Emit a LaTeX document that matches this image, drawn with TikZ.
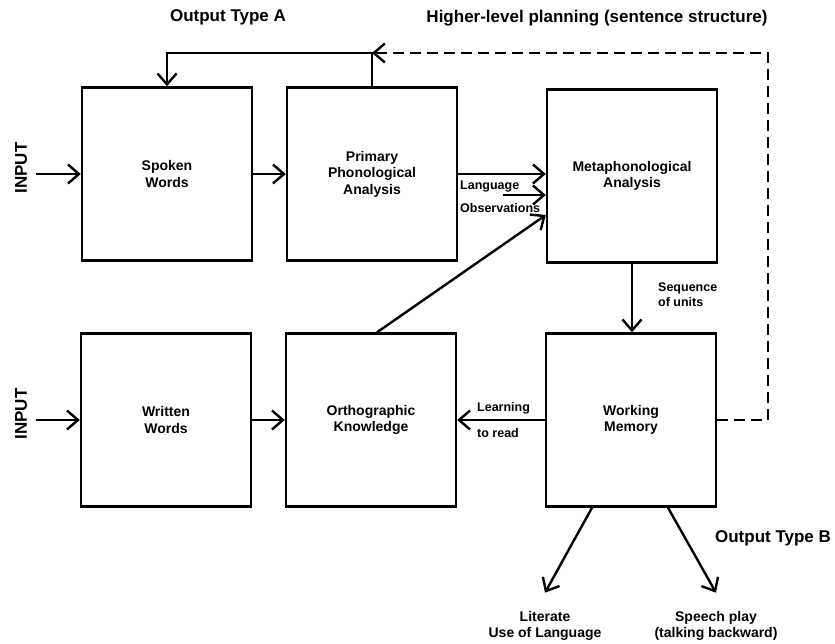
\documentclass[tikz,border=0pt]{standalone}
\usepackage{fontspec}
\setmainfont{Liberation Sans}
\usetikzlibrary{arrows.meta}

\tikzset{
	box/.style={draw, line width=2.4pt, minimum width=170pt, minimum height=173pt, align=center, font=\fontsize{14}{16.5}\selectfont\bfseries},
	lbl/.style={font=\fontsize{12.5}{15}\selectfont\bfseries, inner sep=0pt, align=left},
	outlbl/.style={font=\fontsize{14}{16.5}\selectfont\bfseries, align=center},
	ttl/.style={font=\fontsize{17}{20}\selectfont\bfseries, inner sep=0pt},
	arr/.style={line width=2.4pt, -{Straight Barb[length=11pt,width=19pt]}},
}

\begin{document}
\begin{tikzpicture}[x=1pt,y=-1pt]
	\useasboundingbox (0,0) rectangle (835,643);
	% Titles
	\node [ttl] (outa) at (228,17) {Output Type A};
	\node [ttl] (plan) at (597,18) {Higher-level planning (sentence structure)};
	\node [ttl] (outb) at (773,538) {Output Type B};
	% Boxes
	\node [box] (spoken) at (167,174) {Spoken\\Words};
	\node [box] (primary) at (372,174) {Primary\\Phonological\\Analysis};
	\node [box] (meta) at (632,176) {Metaphonological\\Analysis};
	\node [box] (written) at (166,420) {Written\\Words};
	\node [box] (ortho) at (371,420) {Orthographic\\Knowledge};
	\node [box] (wm) at (631,420) {Working\\Memory};
	% Inputs
	\node [ttl, rotate=90] (in1) at (21,168) {INPUT};
	\node [ttl, rotate=90] (in2) at (21,414) {INPUT};
	\coordinate (in1s) at (36,174);
	\coordinate (in2s) at (36,420);
	\draw [arr] (in1s) -- (spoken.west);
	\draw [arr] (in2s) -- (written.west);
	% Between boxes
	\draw [arr] (spoken.east) -- (primary.west);
	\draw [arr] (written.east) -- (ortho.west);
	\draw [arr] (primary.east) -- (primary.east -| meta.west);
	\coordinate (lang) at (503,195);
	\draw [arr] (lang) -- (lang -| meta.west);
	\draw [arr] ([xshift=6pt]ortho.north) -- ([yshift=-39pt]meta.west);
	\node [lbl, anchor=west] (langtxt) at (460,187) {Language};
	\node [lbl, anchor=west] (obstxt) at (460,208) {Observations};
	\draw [arr] (meta.south) -- (meta.south |- wm.north);
	\node [lbl, anchor=west] (seq) at (658,295) {Sequence\\of units};
	\draw [arr] (wm.west) -- (wm.west -| ortho.east);
	\node [lbl, anchor=west] (learn) at (477,408) {Learning};
	\node [lbl, anchor=west] (read) at (477,433) {to read};
	% Feedback loop
	\coordinate (corner) at (768,53);
	\coordinate (join) at (primary.north |- corner);
	\draw [arr, dash pattern=on 11pt off 6pt] (wm.east) -- (wm.east -| corner) -- (corner) -- (join);
	\draw [arr] (primary.north) -- (join) -- (join -| spoken.north) -- (spoken.north);
	% Output type B
	\node [outlbl] (lit) at (545,626) {Literate\\Use of Language};
	\node [outlbl] (play) at (716,626) {Speech play\\(talking backward)};
	\draw [arr] ([xshift=-39pt]wm.south) -- ([yshift=15pt]lit.north);
	\draw [arr] ([xshift=37pt]wm.south) -- ([yshift=15pt]play.north);
\end{tikzpicture}
\end{document}
